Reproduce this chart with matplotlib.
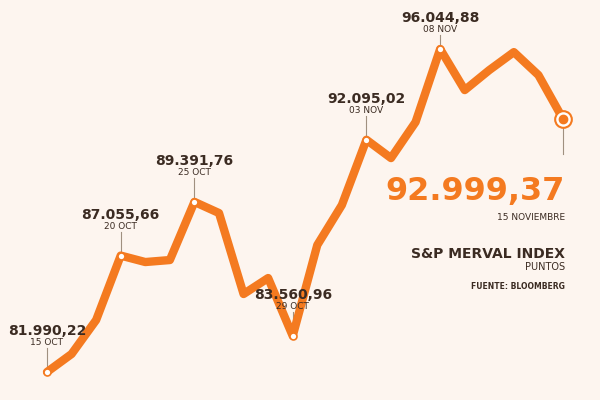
import matplotlib
matplotlib.use("Agg")
import matplotlib.pyplot as plt

values = [81990.22, 82773, 84252, 87055.66, 86775, 86862, 89391.76, 88907, 85383, 86079,
          83560.96, 87515, 89255, 92095.02, 91299, 92865, 96044.88, 94257, 95127, 95910, 94910, 92999.37]
labels = {0: ("81.990,22", "15 OCT"), 3: ("87.055,66", "20 OCT"), 6: ("89.391,76", "25 OCT"),
          10: ("83.560,96", "29 OCT"), 13: ("92.095,02", "03 NOV"), 16: ("96.044,88", "08 NOV")}

plt.rcParams['font.family'] = ['Liberation Sans Narrow', 'DejaVu Sans']
bg = '#fdf5ef'; orange = '#f47a20'; dark = '#3b2b22'
fig = plt.figure(figsize=(6, 4), dpi=100, facecolor=bg)
ax = fig.add_axes([0, 0, 1, 1], facecolor=bg)
x = list(range(len(values)))
x0 = 0 - 47 / ((563 - 47) / 21); x1 = x0 + 600 / ((563 - 47) / 21)
vpp = (96044.88 - 81990.22) / 323
ax.set_xlim(x0, x1)
ax.set_ylim(81990.22 - (400 - 372) * vpp, 81990.22 + 372 * vpp)
ax.axis('off')
ax.plot(x, values, color=orange, lw=6, solid_joinstyle='round', solid_capstyle='round', zorder=2)

for i, (val, dt) in labels.items():
    lead = 14 if i == 16 else 24
    top = values[i] + lead * vpp
    ax.plot([i, i], [values[i], top], color='#a09080', lw=0.8, zorder=1)
    ax.text(i, top + 1 * vpp, dt, ha='center', va='bottom', fontsize=6.5, color=dark)
    ax.text(i, top + 10 * vpp, val, ha='center', va='bottom', fontsize=10, fontweight='bold', color=dark)
    ax.plot(i, values[i], 'o', ms=5, mfc='white', mec=orange, mew=1.2, zorder=3)

i = len(values) - 1
ax.plot([i, i], [values[i], values[i] - 35 * vpp], color='#a09080', lw=0.8, zorder=1)
ax.plot(i, values[i], 'o', ms=12, mfc='white', mec=orange, mew=1.5, zorder=3)
ax.plot(i, values[i], 'o', ms=6, mfc=orange, mec=orange, zorder=4)
fig.text(565/600, 1 - 200/400, "92.999,37", ha='right', va='baseline', fontsize=23, fontweight='bold', color=orange)
fig.text(565/600, 1 - 220/400, "15 NOVIEMBRE", ha='right', va='baseline', fontsize=6.5, color=dark)
fig.text(565/600, 1 - 258/400, "S&P MERVAL INDEX", ha='right', va='baseline', fontsize=10, fontweight='bold', color=dark)
fig.text(565/600, 1 - 270/400, "PUNTOS", ha='right', va='baseline', fontsize=7, color=dark)
fig.text(565/600, 1 - 289/400, "FUENTE: BLOOMBERG", ha='right', va='baseline', fontsize=5.5, fontweight='bold', color=dark)
fig.savefig('out.png', dpi=100, facecolor=bg)
